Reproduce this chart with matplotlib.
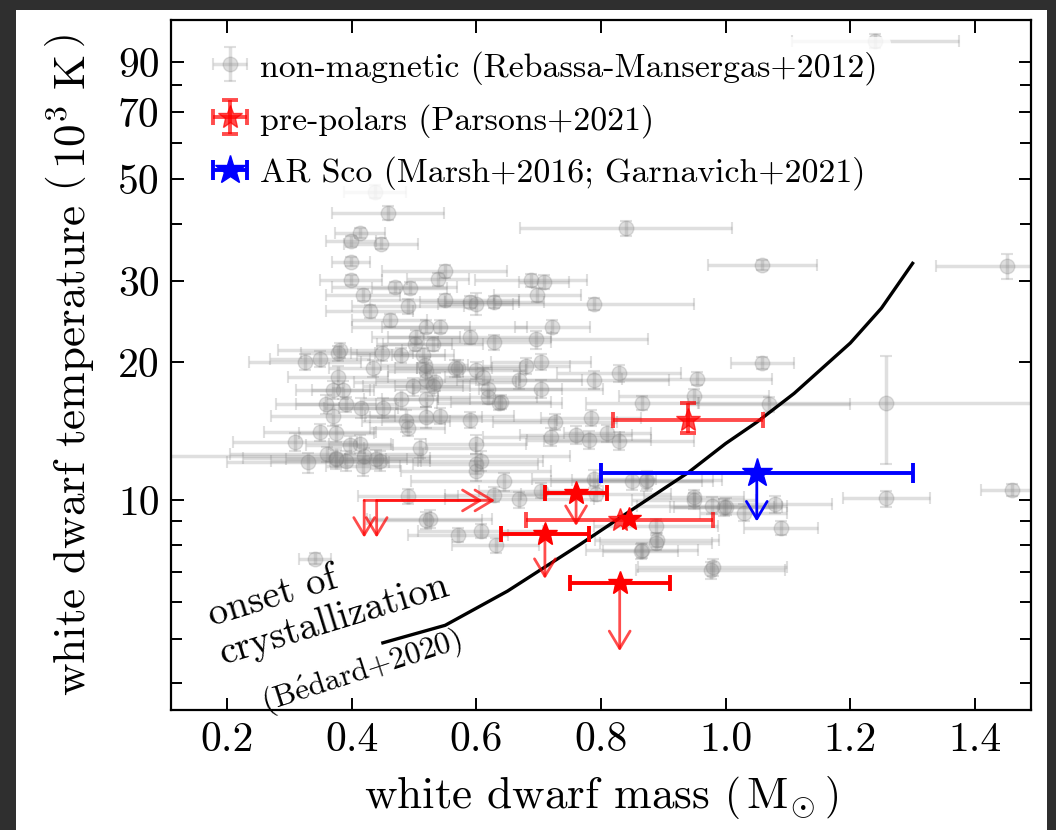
import matplotlib
matplotlib.use('Agg')
import matplotlib.pyplot as plt
from matplotlib.patches import Rectangle
from matplotlib.ticker import LogLocator, NullFormatter, FixedLocator

plt.rcParams['font.family'] = 'serif'
plt.rcParams['font.serif'] = ['cmr10']
plt.rcParams['mathtext.fontset'] = 'cm'
plt.rcParams['axes.formatter.use_mathtext'] = True
plt.rcParams['axes.unicode_minus'] = False

# ---------------- data ----------------
# non-magnetic white dwarfs (Rebassa-Mansergas+2012): mass, T (10^3 K), errors
nm_mass = [1.240, 0.437, 0.458, 0.840, 0.413, 0.399, 0.447, 0.399, 1.059, 1.451,
           0.549, 0.538, 0.399, 0.688, 0.709, 0.469, 0.493, 0.418, 0.698, 0.549,
           0.589, 0.599, 0.629, 0.789, 0.490, 0.429, 0.461, 0.519, 0.541, 0.722,
           0.503, 0.589, 0.629, 0.696, 0.381, 0.530, 0.501, 0.479, 0.514, 0.704,
           0.680, 0.570, 0.599, 0.610, 0.829, 0.789, 0.669, 0.704, 0.618, 0.533,
           0.325, 0.349, 0.378, 0.449, 0.434, 0.378, 0.370, 0.386, 0.359, 0.370,
           0.415, 0.450, 0.479, 0.487, 0.519, 0.349, 0.375, 0.309, 0.413, 0.509,
           0.330, 0.375, 0.391, 0.418, 0.439, 0.420, 0.360, 0.490, 0.519, 0.341,
           0.949, 0.866, 0.637, 0.618, 0.541, 0.589, 0.726, 0.784, 0.720, 0.760,
           0.781, 0.810, 0.829, 0.599, 0.607, 0.599, 0.645, 0.789, 0.850, 0.872,
           0.669, 0.629, 0.704, 0.792, 0.949, 0.978, 0.997, 0.525, 0.570, 0.607,
           0.631, 0.888, 0.888, 0.864, 0.976, 1.059, 0.954, 1.069, 1.258, 0.874,
           0.949, 1.001, 1.029, 1.080, 1.258, 1.460, 1.089, 0.890, 0.866, 0.979,
           0.397, 0.375, 0.445, 0.599, 0.490, 0.391, 0.640, 0.519, 0.498, 0.530,
           0.519, 0.519, 0.517, 0.565]
nm_temp = [99.8, 47.0, 42.3, 39.1, 38.2, 36.6, 36.2, 33.1, 32.6, 32.4,
           31.5, 30.3, 30.2, 30.1, 29.9, 29.1, 29.0, 28.0, 28.0, 27.3,
           27.0, 26.8, 27.0, 26.8, 26.5, 25.8, 24.7, 23.9, 23.9, 23.9,
           22.7, 22.7, 22.1, 22.4, 21.2, 21.9, 21.9, 20.7, 20.7, 20.0,
           19.6, 19.4, 19.2, 18.6, 18.9, 18.3, 18.3, 17.5, 17.5, 18.1,
           20.0, 20.3, 20.9, 20.9, 19.4, 18.6, 17.4, 17.4, 16.2, 15.3,
           15.9, 15.9, 16.6, 14.9, 15.2, 14.1, 14.0, 13.4, 13.3, 13.0,
           12.1, 12.3, 12.2, 11.9, 12.3, 12.5, 12.6, 10.2, 9.05, 7.47,
           16.9, 16.3, 16.3, 16.8, 15.3, 15.0, 14.8, 15.1, 13.75, 13.9,
           13.55, 14.0, 13.5, 13.25, 12.2, 11.6, 11.0, 11.15, 11.05, 11.0,
           10.05, 10.3, 10.5, 10.35, 10.0, 9.75, 9.67, 9.12, 8.43, 8.6,
           7.98, 8.8, 8.1, 7.75, 7.06, 19.9, 18.4, 16.2, 16.3, 11.1,
           10.15, 9.7, 9.4, 9.8, 10.1, 10.55, 8.7, 8.2, 7.8, 7.15,
           13.2, 12.4, 12.2, 12.0, 14.4, 16.2, 16.4, 16.6, 17.7, 17.7,
           19.1, 18.3, 19.7, 19.4]
nm_mass_err = [0.134, 0.05, 0.09, 0.17, 0.04, 0.04, 0.06, 0.03, 0.087, 0.113,
               0.10, 0.05, 0.05, 0.09, 0.04, 0.10, 0.06, 0.06, 0.07, 0.12,
               0.08, 0.06, 0.08, 0.16, 0.09, 0.07, 0.06, 0.07, 0.14, 0.06,
               0.07, 0.13, 0.09, 0.18, 0.10, 0.08, 0.06, 0.07, 0.05, 0.08,
               0.07, 0.10, 0.08, 0.06, 0.10, 0.12, 0.10, 0.10, 0.12, 0.13,
               0.09, 0.08, 0.06, 0.05, 0.07, 0.08, 0.06, 0.05, 0.08, 0.10,
               0.06, 0.07, 0.06, 0.07, 0.09, 0.09, 0.06, 0.10, 0.05, 0.09,
               0.13, 0.08, 0.12, 0.06, 0.05, 0.33, 0.155, 0.08, 0.09, 0.025,
               0.12, 0.09, 0.10, 0.08, 0.12, 0.14, 0.10, 0.08, 0.11, 0.09,
               0.10, 0.07, 0.12, 0.08, 0.10, 0.12, 0.15, 0.10, 0.13, 0.09,
               0.12, 0.08, 0.10, 0.12, 0.10, 0.12, 0.08, 0.10, 0.08, 0.10,
               0.07, 0.10, 0.09, 0.06, 0.12, 0.05, 0.12, 0.13, 0.30, 0.12,
               0.08, 0.09, 0.07, 0.09, 0.07, 0.05, 0.06, 0.10, 0.09, 0.12,
               0.07, 0.15, 0.08, 0.10, 0.06, 0.08, 0.08, 0.07, 0.08, 0.06,
               0.06, 0.08, 0.07, 0.06]
nm_temp_err = [3.5, 1.5, 1.5, 1.5, 1.0, 1.0, 1.0, 0.8, 0.8, 2.0,
               1.0, 1.0, 0.8, 1.0, 1.0, 0.8, 0.8, 0.8, 1.0, 0.8,
               0.8, 1.5, 0.8, 0.8, 1.0, 0.8, 0.8, 0.8, 0.8, 0.8,
               0.8, 0.8, 0.8, 1.0, 0.8, 0.8, 0.8, 0.8, 0.8, 0.8,
               0.8, 0.8, 0.8, 0.8, 0.8, 0.8, 0.8, 0.8, 0.8, 0.8,
               0.8, 0.8, 0.8, 0.8, 0.8, 1.0, 0.8, 0.8, 0.8, 0.8,
               0.8, 0.8, 0.8, 0.8, 0.8, 0.6, 0.6, 0.6, 0.6, 0.6,
               0.6, 0.6, 0.6, 0.6, 0.6, 0.5, 0.5, 0.4, 0.4, 0.2,
               0.6, 0.6, 0.6, 0.6, 0.6, 0.6, 0.6, 0.6, 0.6, 0.6,
               0.6, 0.6, 0.6, 0.6, 0.6, 0.6, 0.5, 0.5, 0.5, 0.5,
               0.4, 0.4, 0.4, 0.4, 0.4, 0.4, 0.4, 0.4, 0.3, 0.3,
               0.3, 0.3, 0.3, 0.3, 0.3, 0.6, 0.6, 0.6, 4.3, 0.5,
               0.4, 0.4, 0.4, 0.4, 0.4, 0.3, 0.3, 0.3, 0.3, 0.3,
               0.6, 0.6, 0.6, 0.6, 0.6, 0.6, 0.6, 0.6, 0.8, 0.8,
               0.8, 0.8, 0.8, 0.8]

# pre-polars (Parsons+2021)
pp_mass = [0.94, 0.76, 0.83, 0.845, 0.71, 0.83]
pp_temp = [15.0, 10.4, 9.05, 9.1, 8.45, 6.6]
pp_mass_err = [0.12, 0.05, 0.15, 0.0, 0.07, 0.08]
pp_temp_err_lo = [1.0, 0.0, 0.0, 0.0, 0.0, 0.0]
pp_temp_err_hi = [1.3, 0.0, 0.0, 0.0, 0.0, 0.0]
pp_faint = [True, False, True, False, False, False]
pp_temp_upper_to = [None, 8.8, None, None, 6.75, 4.7]

# pre-polars with limits only (T upper limit, M lower limit)
pl_mass = [0.42, 0.44]
pl_temp = [10.0, 10.0]
pl_mass_to = [0.61, 0.63]
pl_temp_to = [8.3, 8.3]

# AR Sco (Marsh+2016; Garnavich+2021)
ar_mass = [1.05]
ar_temp = [11.5]
ar_mass_err = [0.25]
ar_temp_to = [9.0]

# onset of crystallization (Bedard+2020)
cr_mass = [0.45, 0.55, 0.65, 0.765, 0.86, 0.94, 1.0, 1.05, 1.11, 1.2, 1.25, 1.3]
cr_temp = [4.9, 5.35, 6.35, 8.0, 9.75, 11.5, 13.3, 14.8, 17.1, 22.0, 26.2, 32.8]

x_ticks = [0.2, 0.4, 0.6, 0.8, 1.0, 1.2, 1.4]
x_ticklabels = ['0.2', '0.4', '0.6', '0.8', '1.0', '1.2', '1.4']
y_ticks = [10, 20, 30, 50, 70, 90]
y_ticklabels = ['10', '20', '30', '50', '70', '90']

# ---------------- figure ----------------
W, H = 1056, 830
fig = plt.figure(figsize=(W / 100, H / 100), dpi=100, facecolor='#2f2f2f')
fig.patches.append(Rectangle((16 / W, 0), 1031 / W, 820 / H, transform=fig.transFigure,
                             facecolor='white', edgecolor='none', zorder=-5))
ax = fig.add_axes([171 / W, 1 - 710 / H, 860 / W, 690 / H])

ax.errorbar(nm_mass, nm_temp, xerr=nm_mass_err, yerr=nm_temp_err, fmt='o',
            color='gray', ms=10.5, alpha=0.25, elinewidth=2.5, capsize=4,
            capthick=1.5, zorder=1,
            label='non-magnetic (Rebassa-Mansergas+2012)')

ax.plot(cr_mass, cr_temp, color='black', lw=2.4, zorder=3)

arrow_style = '->, head_length=0.5, head_width=0.3'
red_label_done = False
for m, t, me, tl, th, faint, tto in zip(pp_mass, pp_temp, pp_mass_err, pp_temp_err_lo,
                                        pp_temp_err_hi, pp_faint, pp_temp_upper_to):
    a = 0.7 if faint else 1.0
    kw = {}
    if th > 0 and not red_label_done:
        kw['label'] = 'pre-polars (Parsons+2021)'
        red_label_done = True
    ax.errorbar([m], [t], xerr=[me] if me > 0 else None,
                yerr=[[tl], [th]] if th > 0 else None, fmt='*', color='red',
                ms=18, alpha=a, elinewidth=2.8, capsize=6, capthick=2.8, zorder=4, **kw)
    if tto is not None:
        ax.annotate('', xy=(m, tto), xytext=(m, t),
                    arrowprops=dict(arrowstyle=arrow_style, color='red', alpha=0.7,
                                    lw=2, mutation_scale=25, shrinkA=0, shrinkB=0),
                    zorder=4)

for m, t, mto, tto in zip(pl_mass, pl_temp, pl_mass_to, pl_temp_to):
    ax.annotate('', xy=(mto, t), xytext=(m, t),
                arrowprops=dict(arrowstyle=arrow_style, color='red', alpha=0.7,
                                lw=2, mutation_scale=25, shrinkA=0, shrinkB=0), zorder=4)
    ax.annotate('', xy=(m, tto), xytext=(m, t),
                arrowprops=dict(arrowstyle=arrow_style, color='red', alpha=0.7,
                                lw=2, mutation_scale=25, shrinkA=0, shrinkB=0), zorder=4)

ax.errorbar(ar_mass, ar_temp, xerr=ar_mass_err, fmt='*', color='blue', ms=22,
            elinewidth=2.8, capsize=7, capthick=2.8, zorder=5,
            label='AR Sco (Marsh+2016; Garnavich+2021)')
for m, t, tto in zip(ar_mass, ar_temp, ar_temp_to):
    ax.annotate('', xy=(m, tto), xytext=(m, t),
                arrowprops=dict(arrowstyle=arrow_style, color='blue', lw=2,
                                mutation_scale=25, shrinkA=0, shrinkB=0), zorder=5)

# crystallization label
ax.text((222 - 171) / 860, (710 - 660) / 690, 'onset of\ncrystallization',
        transform=ax.transAxes, fontsize=28, rotation=17, ha='left', va='baseline',
        rotation_mode='anchor', multialignment='left', linespacing=1.15)
ax.text((362 - 171) / 860, (710 - 672) / 690, r'(B$\mathrm{\acute{e}}$dard+2020)',
        transform=ax.transAxes, fontsize=22.5, rotation=18, ha='center', va='center',
        rotation_mode='anchor')

# axes formatting
ax.set_yscale('log')
ax.set_xlim(0.11, 1.49)
ax.set_ylim(3.5, 111)
ax.yaxis.set_major_locator(FixedLocator(y_ticks))
ax.set_yticklabels(y_ticklabels)
ax.yaxis.set_minor_locator(LogLocator(base=10, subs=[2, 3, 4, 5, 6, 7, 8, 9]))
ax.yaxis.set_minor_formatter(NullFormatter())
ax.set_xticks(x_ticks)
ax.set_xticklabels(x_ticklabels)
ax.tick_params(which='both', direction='in', top=True, right=True, width=1.4)
ax.tick_params(which='major', length=9, labelsize=30, pad=8)
ax.tick_params(which='minor', length=8)
for s in ax.spines.values():
    s.set_linewidth(1.6)

ax.set_xlabel(r'white dwarf mass $\left(\,\mathrm{M}_{\odot}\,\right)$', fontsize=32.5, labelpad=12)
ax.set_ylabel(r'white dwarf temperature $\left(\,10^{3}\ \mathrm{K}\,\right)$', fontsize=32.5,
              labelpad=16)

leg = ax.legend(loc='upper left', bbox_to_anchor=(0.031, 0.975), borderaxespad=0,
                fontsize=24.4, frameon=True, framealpha=0.8,
                edgecolor='none', facecolor='white', handlelength=1.1,
                handletextpad=0.35, labelspacing=0.56, borderpad=0.4)

fig.savefig('out.png', dpi=100, facecolor=fig.get_facecolor())
